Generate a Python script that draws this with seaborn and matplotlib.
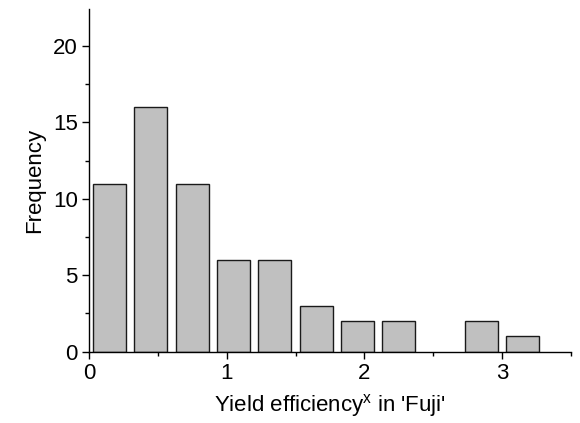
import numpy as np
import pandas as pd
import matplotlib
matplotlib.use("Agg")
import matplotlib.pyplot as plt
import seaborn as sns
from matplotlib.ticker import MultipleLocator

# Data (bin centers, width 0.3)
bin_centers = [0.15, 0.45, 0.75, 1.05, 1.35, 1.65, 1.95, 2.25, 2.55, 2.85, 3.15]
frequencies = [11, 16, 11, 6, 6, 3, 2, 2, 0, 2, 1]
bin_edges = [0.0, 0.3, 0.6, 0.9, 1.2, 1.5, 1.8, 2.1, 2.4, 2.7, 3.0, 3.3]
x_ticks = [0, 1, 2, 3]
y_ticks = [0, 5, 10, 15, 20]

sns.set_style("ticks")
plt.rcParams['font.family'] = ['Liberation Sans', 'DejaVu Sans']
plt.rcParams['mathtext.fontset'] = 'custom'
plt.rcParams['mathtext.rm'] = 'Liberation Sans'
plt.rcParams['mathtext.it'] = 'Liberation Sans'
plt.rcParams['text.color'] = 'black'
plt.rcParams['axes.labelcolor'] = 'black'
plt.rcParams['xtick.color'] = 'black'
plt.rcParams['ytick.color'] = 'black'

df = pd.DataFrame({"x": bin_centers, "w": frequencies})

fig = plt.figure(figsize=(5.8, 4.23), dpi=100)
ax = fig.add_axes([0.1534, 0.1686, 0.8311, 0.8094])

sns.histplot(data=df, x="x", weights="w", bins=bin_edges, shrink=0.8,
             color="#c0c0c0", alpha=1, edgecolor="#1a1a1a", linewidth=1.0, ax=ax)
for p in ax.patches:
    if p.get_height() == 0:
        p.set_visible(False)

ax.set_xlim(0, 3.5)
ax.set_ylim(0, 22.4)
ax.set_xticks(x_ticks)
ax.set_yticks(y_ticks)
ax.xaxis.set_minor_locator(MultipleLocator(0.5))
ax.yaxis.set_minor_locator(MultipleLocator(2.5))
ax.tick_params(axis='both', which='major', labelsize=16, length=5, width=1,
               color='black', labelcolor='black', pad=3)
ax.tick_params(axis='both', which='minor', length=3, width=1, color='black')
for s in ['top', 'right']:
    ax.spines[s].set_visible(False)
for s in ['left', 'bottom']:
    ax.spines[s].set_linewidth(1.0)
    ax.spines[s].set_color('black')

ax.set_ylabel("Frequency", fontsize=16, labelpad=6, color='black')
ax.set_xlabel(r"Yield efficiency$^{\mathrm{x}}$ in 'Fuji'", fontsize=16, labelpad=6, color='black')

fig.savefig("out.png", dpi=100)
